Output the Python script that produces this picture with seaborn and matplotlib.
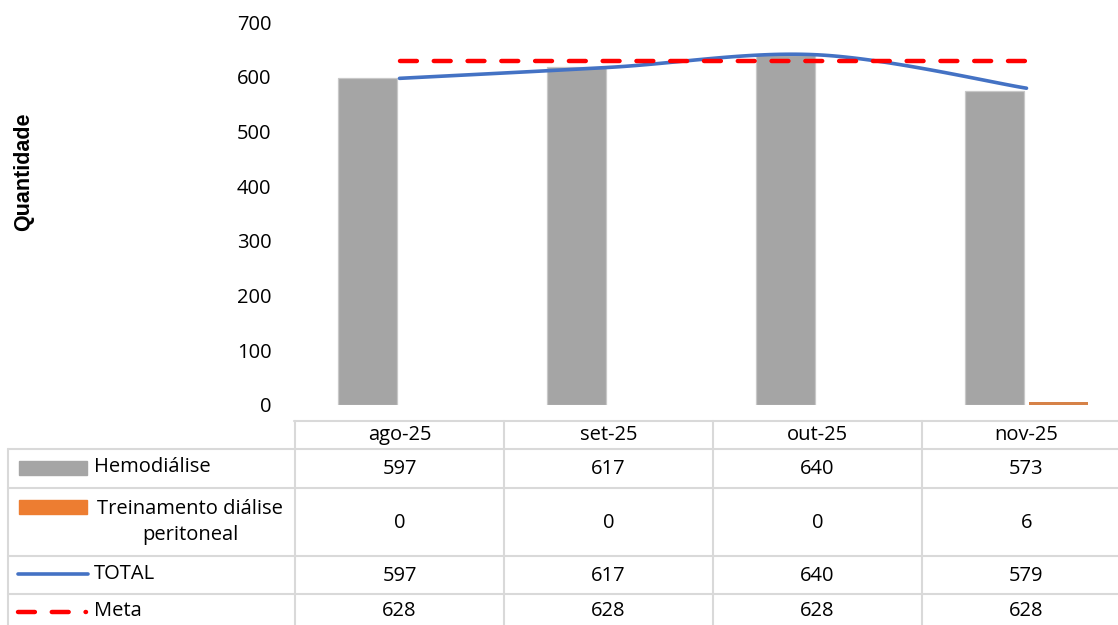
import numpy as np
import pandas as pd
import matplotlib
matplotlib.use("Agg")
import matplotlib.pyplot as plt
import matplotlib.transforms as mtrans
import seaborn as sns

# data
meses = ["ago-25", "set-25", "out-25", "nov-25"]
hemodialise = [597, 617, 640, 573]
treinamento = [0, 0, 0, 6]
total = [597, 617, 640, 579]
meta = [628, 628, 628, 628]

series_names = ["Hemodiálise", "Treinamento diálise\nperitoneal", "TOTAL", "Meta"]
cores = {"Hemodiálise": "#A5A5A5", "Treinamento": "#ED7D31",
         "TOTAL": "#4472C4", "Meta": "#FF0000"}

sns.set_theme(style="white")
plt.rcParams["font.family"] = ["Open Sans", "DejaVu Sans"]
plt.rcParams["text.color"] = "#000000"

W, H = 1118, 625
fig = plt.figure(figsize=(W / 100, H / 100), dpi=100)

# main plot area (last category runs off the right edge like the original)
ax = fig.add_axes([295 / W, (H - 405) / H, 836 / W, 383 / H])

bars = pd.DataFrame({
    "mes": meses * 2,
    "valor": hemodialise + treinamento,
    "serie": ["Hemodiálise"] * 4 + ["Treinamento"] * 4,
})
sns.barplot(data=bars, x="mes", y="valor", hue="serie", order=meses,
            palette=[cores["Hemodiálise"], cores["Treinamento"]],
            width=0.612, gap=0.09, legend=False, ax=ax, linewidth=0)
for p in ax.patches:
    if p.get_height() > 100:
        p.set_edgecolor("#C8C8C8")
        p.set_linewidth(0.9)


def excel_smooth(y, n=40):
    # catmull-rom style bezier like Excel's "smoothed line"
    x = np.arange(len(y), dtype=float)
    y = np.asarray(y, dtype=float)
    px, py = [], []
    for i in range(len(y) - 1):
        x0, y0 = (x[i - 1], y[i - 1]) if i > 0 else (x[i], y[i])
        x3, y3 = (x[i + 2], y[i + 2]) if i + 2 < len(y) else (x[i + 1], y[i + 1])
        c1 = (x[i] + (x[i + 1] - x0) / 6, y[i] + (y[i + 1] - y0) / 6)
        c2 = (x[i + 1] - (x3 - x[i]) / 6, y[i + 1] - (y3 - y[i]) / 6)
        t = np.linspace(0, 1, n)
        bx = ((1 - t) ** 3 * x[i] + 3 * (1 - t) ** 2 * t * c1[0]
              + 3 * (1 - t) * t ** 2 * c2[0] + t ** 3 * x[i + 1])
        by = ((1 - t) ** 3 * y[i] + 3 * (1 - t) ** 2 * t * c1[1]
              + 3 * (1 - t) * t ** 2 * c2[1] + t ** 3 * y[i + 1])
        px.extend(bx)
        py.extend(by)
    return np.array(px), np.array(py)


sx, sy = excel_smooth(total)
sns.lineplot(x=sx, y=sy, color=cores["TOTAL"], linewidth=2.6, sort=False,
             ax=ax, solid_capstyle="round")
sns.lineplot(x=np.arange(len(meta)), y=meta, color=cores["Meta"], linewidth=3.2,
             dashes=False, ax=ax)
ax.lines[-1].set_dashes([3.8, 3.8])
ax.lines[-1].set_dash_capstyle("round")

ax.set_xlim(-0.5, 3.5)
ax.set_ylim(0, 700)
ax.set_yticks(range(0, 701, 100))
ax.tick_params(axis="y", labelsize=14.5, pad=17, length=0, colors="#000000")
ax.set_xticks([])
ax.set_xlabel("")
ax.set_ylabel("")
for s in ax.spines.values():
    s.set_visible(False)
ax.patch.set_alpha(0)

fig.text(24 / W, 1 - 172 / H, "Quantidade", rotation=90, ha="center",
         va="center", fontsize=15.5, fontweight="bold", color="#000000",
         family=["Liberation Sans", "DejaVu Sans"])

# data table below the plot
tab = fig.add_axes([0, 0, 1, 1], zorder=-1)
tab.set_xlim(0, W)
tab.set_ylim(H, 0)
tab.axis("off")
tr = mtrans.blended_transform_factory(ax.transData, tab.transData)

grid = "#D9D9D9"
row_y = [421, 449, 488, 556, 594, 640]
col_x = [i - 0.5 for i in range(len(meses) + 1)]
# horizontal lines
tab.plot([294, W], [row_y[0]] * 2, color=grid, lw=1.5)
for yy in row_y[1:5]:
    tab.plot([8, W], [yy, yy], color=grid, lw=1.5)
tab.plot([8, 8], [row_y[1], H], color=grid, lw=1.5)
for cx in col_x:
    tab.plot([cx, cx], [row_y[0], H], color=grid, lw=1.5, transform=tr)

fs = 14.5
for i, m in enumerate(meses):
    tab.text(i, (row_y[0] + row_y[1]) / 2, m, transform=tr, ha="center",
             va="center", fontsize=fs)
    for r, vals in enumerate([hemodialise, treinamento, total, meta]):
        yc = (row_y[r + 1] + row_y[r + 2]) / 2 + 1
        if r == 3:
            yc = 611
        tab.text(i, yc, str(vals[i]), transform=tr, ha="center", va="center",
                 fontsize=fs)

# legend keys in the table
tab.add_patch(plt.Rectangle((19, 461), 68, 14, color=cores["Hemodiálise"]))
tab.add_patch(plt.Rectangle((19, 500), 68, 14, color=cores["Treinamento"]))
tab.plot([18, 88], [574, 574], color=cores["TOTAL"], lw=2.6,
         solid_capstyle="round")
tab.plot([18, 86], [612, 612], color=cores["Meta"], lw=3.2,
         dashes=[3.8, 3.8], dash_capstyle="round")

tab.text(94, 467, series_names[0], ha="left", va="center", fontsize=fs)
tab.text(190, 522, series_names[1], ha="center", va="center", fontsize=fs,
         linespacing=1.45)
tab.text(94, 574, series_names[2], ha="left", va="center", fontsize=fs)
tab.text(94, 611, series_names[3], ha="left", va="center", fontsize=fs)

fig.savefig("out.png", dpi=100)
